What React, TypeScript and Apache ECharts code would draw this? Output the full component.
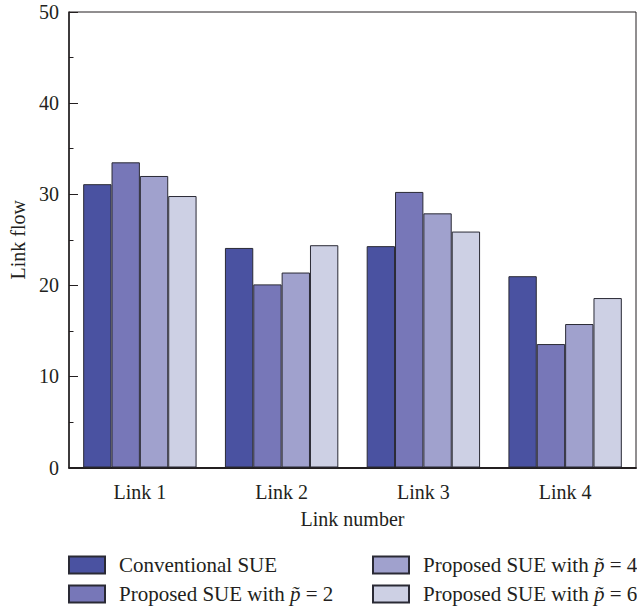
import React, { useEffect, useRef } from "react";
import * as echarts from "echarts";

const categories = ["Link 1", "Link 2", "Link 3", "Link 4"];
const seriesNames = [
  "Conventional SUE",
  "Proposed SUE with p\u0303 = 2",
  "Proposed SUE with p\u0303 = 4",
  "Proposed SUE with p\u0303 = 6",
];
const conventional = [31.1, 24.1, 24.3, 21.0];
const proposedP2 = [33.5, 20.1, 30.25, 13.55];
const proposedP4 = [32.0, 21.4, 27.9, 15.75];
const proposedP6 = [29.8, 24.4, 25.9, 18.6];
const colors = ["#4a52a1", "#7777b8", "#a0a1cd", "#cdd0e4"];

const FONT = "'Liberation Serif', 'DejaVu Serif', serif";
const TEXT = "#231f20";

export default function App() {
  const ref = useRef<HTMLDivElement>(null);
  useEffect(() => {
    if (!ref.current) return;
    const chart = echarts.init(ref.current, null, { renderer: "svg" });
    const values = [conventional, proposedP2, proposedP4, proposedP6];
    const legendFormatter = (name: string) => {
      const idx = name.indexOf("p\u0303");
      if (idx < 0) return name;
      return name.slice(0, idx) + "{it|p\u0303}" + name.slice(idx + 2);
    };
    const legendBase = {
      orient: "vertical",
      top: 554.5,
      height: 60,
      padding: 0,
      itemWidth: 36,
      itemHeight: 17,
      itemGap: 8,
      icon: "rect",
      formatter: legendFormatter,
      textStyle: {
        fontFamily: FONT,
        fontSize: 21,
        color: TEXT,
        padding: [0, 0, 0, 9],
        rich: {
          it: { fontFamily: FONT, fontSize: 21, fontStyle: "italic", color: TEXT },
        },
      },
    };
    chart.setOption({
      animation: false,
      grid: {
        left: 69,
        right: 1,
        top: 12,
        bottom: 142.5,
        show: true,
        borderColor: TEXT,
        borderWidth: 1,
        backgroundColor: "transparent",
      },
      legend: [
        { ...legendBase, left: 68, data: [seriesNames[0], seriesNames[1]] },
        { ...legendBase, left: 372, data: [seriesNames[2], seriesNames[3]] },
      ],
      xAxis: {
        type: "category",
        data: categories,
        name: "Link number",
        nameLocation: "middle",
        nameGap: 41,
        nameTextStyle: { fontFamily: FONT, fontSize: 20, color: TEXT },
        axisLine: { lineStyle: { color: TEXT, width: 2 } },
        axisTick: { show: false },
        axisLabel: { fontFamily: FONT, fontSize: 20, color: TEXT, margin: 14 },
        splitLine: { show: false },
      },
      yAxis: {
        type: "value",
        min: 0,
        max: 50,
        interval: 10,
        name: "Link flow",
        nameLocation: "middle",
        nameGap: 41,
        nameTextStyle: { fontFamily: FONT, fontSize: 20, color: TEXT },
        axisLine: { show: true, lineStyle: { color: TEXT, width: 1.5 } },
        axisTick: { show: true, inside: true, length: 9, lineStyle: { color: TEXT, width: 1 } },
        minorTick: { show: true, splitNumber: 2, length: 4.5, lineStyle: { color: TEXT, width: 1 } },
        axisLabel: { fontFamily: FONT, fontSize: 20, color: TEXT, margin: 10 },
        splitLine: { show: false },
      },
      series: values.map((v, i) => ({
        name: seriesNames[i],
        type: "bar",
        data: v,
        barGap: "0%",
        barCategoryGap: "20%",
        itemStyle: { color: colors[i], borderColor: "#2a2a35", borderWidth: 1 },
      })),
    });
    return () => chart.dispose();
  }, []);
  return <div ref={ref} style={{ width: 637, height: 610, position: "absolute", left: 0, top: 0 }} />;
}
